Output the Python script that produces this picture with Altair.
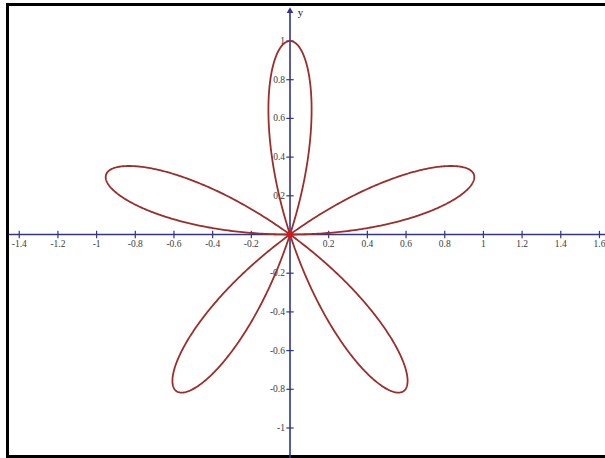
import numpy as np
import pandas as pd
import altair as alt

# Rose curve r = A * sin(k * theta)
petals_k = 5
amplitude = 1.0
n_samples = 1200

# Axis ticks and their labels
x_ticks = [-1.4, -1.2, -1.0, -0.8, -0.6, -0.4, -0.2, 0.2, 0.4, 0.6, 0.8, 1.0, 1.2, 1.4, 1.6]
x_tick_labels = ["-1.4", "-1.2", "-1", "-0.8", "-0.6", "-0.4", "-0.2", "0.2", "0.4", "0.6", "0.8", "1", "1.2", "1.4", "1.6"]
y_ticks = [1.0, 0.8, 0.6, 0.4, 0.2, -0.2, -0.4, -0.6, -0.8, -1.0]
y_tick_labels = ["1", "0.8", "0.6", "0.4", "0.2", "-0.2", "-0.4", "-0.6", "-0.8", "-1"]

X_DOMAIN = [-1.4995, 1.6287]
Y_DOMAIN = [-1.155, 1.2119]
W, H = 605, 458

AXIS_COLOR = "#34348a"
CURVE_COLOR = "#9b2d2a"
LABEL_FONT = "Liberation Serif"

theta = np.linspace(0, np.pi, n_samples)
r = amplitude * np.sin(petals_k * theta)
curve = pd.DataFrame({"x": r * np.cos(theta), "y": r * np.sin(theta), "i": np.arange(n_samples)})

xs = alt.Scale(domain=X_DOMAIN, nice=False, zero=False)
ys = alt.Scale(domain=Y_DOMAIN, nice=False, zero=False)
noax = None

def X(field="x"):
    return alt.X(f"{field}:Q", scale=xs, axis=noax)

def Y(field="y"):
    return alt.Y(f"{field}:Q", scale=ys, axis=noax)

base = alt.Chart(pd.DataFrame({"d": [0]}))

# Frame around the drawing
frame_left = base.mark_rule(color="black", strokeWidth=3).encode(
    x=alt.value(7.5), y=alt.value(3), y2=alt.value(H))
frame_top = base.mark_rule(color="black", strokeWidth=3).encode(
    y=alt.value(4.5), x=alt.value(6), x2=alt.value(W))
frame_bottom = base.mark_rule(color="black", strokeWidth=3).encode(
    y=alt.value(456.5), x=alt.value(6), x2=alt.value(W))

# Coordinate axes through the origin
axes_df = pd.DataFrame({
    "x": [-1.455, 0.0], "x2": [1.63, 0.0],
    "y": [0.0, -1.16], "y2": [0.0, 1.15],
})
axes = alt.Chart(axes_df).mark_rule(color=AXIS_COLOR, strokeWidth=1.6).encode(
    x=X("x"), x2="x2:Q", y=Y("y"), y2="y2:Q")

arrow = alt.Chart(pd.DataFrame({"x": [0.0], "y": [1.16]})).mark_point(
    shape="triangle-up", filled=True, color=AXIS_COLOR, size=45, opacity=1).encode(
    x=X(), y=Y())

y_name = alt.Chart(pd.DataFrame({"x": [0.04], "y": [1.145], "t": ["y"]})).mark_text(
    font=LABEL_FONT, fontSize=11, color="#222", align="left", baseline="middle").encode(
    x=X(), y=Y(), text="t:N")

tick_half = 0.019
xt = pd.DataFrame({"x": x_ticks, "lab": x_tick_labels})
xt["y"] = -tick_half
xt["y2"] = tick_half
x_tick_marks = alt.Chart(xt).mark_rule(color=AXIS_COLOR, strokeWidth=1.2).encode(
    x=X("x"), y=Y("y"), y2="y2:Q")
xt["yl"] = 0.0
x_tick_text = alt.Chart(xt).mark_text(
    font=LABEL_FONT, fontSize=9.5, color="#3a3a3a", baseline="top", dy=4).encode(
    x=X("x"), y=Y("yl"), text="lab:N")

yt = pd.DataFrame({"y": y_ticks, "lab": y_tick_labels})
yt["x"] = -tick_half
yt["x2"] = tick_half
y_tick_marks = alt.Chart(yt).mark_rule(color=AXIS_COLOR, strokeWidth=1.2).encode(
    y=Y("y"), x=X("x"), x2="x2:Q")
yt["xl"] = 0.0
y_tick_text = alt.Chart(yt).mark_text(
    font=LABEL_FONT, fontSize=9.5, color="#3a3a3a", align="right", baseline="middle", dx=-5).encode(
    x=X("xl"), y=Y("y"), text="lab:N")

rose = alt.Chart(curve).mark_line(color=CURVE_COLOR, strokeWidth=1.8).encode(
    x=X(), y=Y(), order="i:Q")

origin = alt.Chart(pd.DataFrame({"x": [0.0], "y": [0.0]})).mark_point(
    filled=True, color="#e0141e", size=30, opacity=0.9).encode(x=X(), y=Y())

chart = alt.layer(
    frame_left, frame_top, frame_bottom,
    axes, arrow, y_name,
    x_tick_marks, x_tick_text, y_tick_marks, y_tick_text,
    rose, origin,
).properties(
    width=W, height=H, padding=0, autosize=alt.AutoSizeParams(type="none"),
    background="white",
).configure_view(stroke=None)

chart.save("out.html", embed_options={"renderer": "svg", "actions": False})
